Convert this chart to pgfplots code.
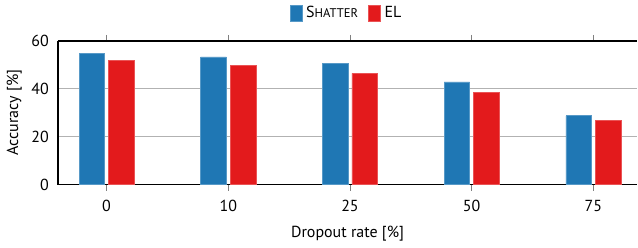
\documentclass[border=0pt]{standalone}
\usepackage{pgfplots}
\pgfplotsset{compat=1.18}
\usepackage{fontspec}
\setmainfont{PT Sans}
\definecolor{cblue}{RGB}{31,119,180}
\definecolor{cred}{RGB}{227,26,28}
\newcommand{\fsc}[1]{{\fontsize{6.3pt}{7pt}\selectfont #1}}
\begin{document}
\begin{tikzpicture}
\begin{axis}[
  scale only axis,
  width=290pt, height=72pt,
  font=\fontsize{8pt}{9.6pt}\selectfont,
  ybar=2pt, bar width=12.8pt,
  xmin=-0.4, xmax=4.36,
  ymin=0, ymax=60,
  ytick={0,20,40,60},
  xtick=data,
  xticklabels={0,10,25,50,75},
  /pgf/number format/assume math mode=true,
  axis x line*=box, axis y line*=left,
  axis line style={black, line width=0.8pt},
  ymajorgrids, grid style={gray!60, line width=0.4pt},
  ytick style={draw=none},
  xtick style={gray, line width=0.4pt},
  xtick align=outside,
  major tick length=3pt,
  yticklabel style={xshift=-1pt},
  xticklabel style={yshift=-1.5pt},
  xlabel={Dropout rate [\%]},
  ylabel={Accuracy [\%]},
  xlabel style={yshift=0pt},
  ylabel style={yshift=-2pt},
  legend style={at={(0.5,1)}, anchor=south, yshift=7pt, draw=none, legend columns=2,
    inner sep=1pt, /tikz/every even column/.append style={column sep=3pt}},
  legend image code/.code={\fill[#1] (0pt,-4pt) rectangle (6pt,4pt);},
]
\addplot[fill=cblue, draw=cblue!75!white, line width=0.3pt] coordinates {(0,54.7) (1,53.3) (2,50.4) (3,42.8) (4,28.7)};
\addplot[fill=cred, draw=cred!75!white, line width=0.3pt] coordinates {(0,51.7) (1,49.6) (2,46.4) (3,38.6) (4,26.7)};
\legend{S\fsc{HATTER}, EL}
\end{axis}
\end{tikzpicture}
\end{document}
